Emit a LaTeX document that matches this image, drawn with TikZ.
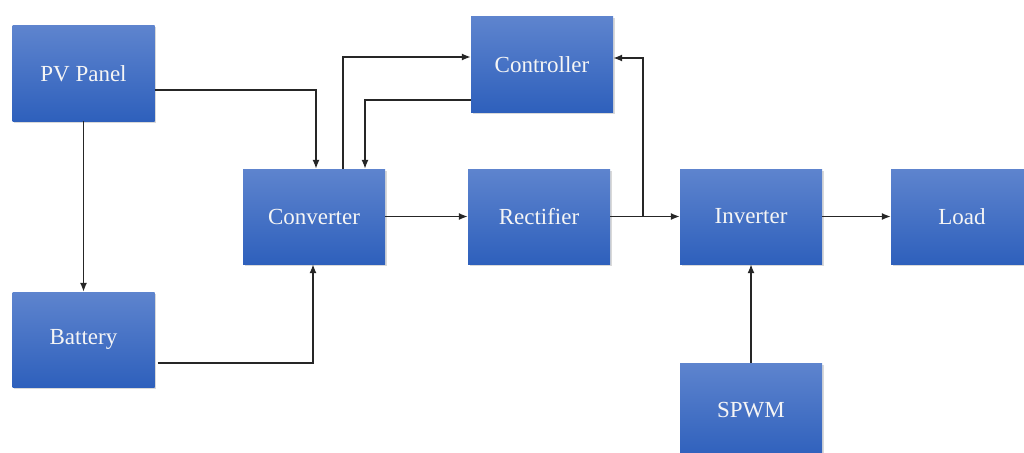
\documentclass[tikz,border=0pt]{standalone}
\usepackage{fontspec}
\setmainfont{Liberation Serif}
\newfontfamily\boxfont{Liberation Serif}
\usetikzlibrary{arrows.meta,shadows}
\definecolor{boxtop}{RGB}{94,132,206}
\definecolor{boxbot}{RGB}{46,96,188}
\begin{document}
\begin{tikzpicture}[x=1pt,y=-1pt,
  blk/.style={rectangle, minimum width=142pt, minimum height=95pt, inner sep=0pt,
    top color=boxtop, bottom color=boxbot, draw=none, text=white!96!black,
    font=\boxfont\fontsize{23}{26}\selectfont,
    drop shadow={opacity=0.3, shadow xshift=1.5pt, shadow yshift=-1.5pt}},
  conn/.style={line width=1.4pt, draw=black!85, -{Latex[length=9pt,width=7pt]}}]
\useasboundingbox (0,0) rectangle (1024,452);
\node[blk] (pv)   at (83.5,73.5)  {PV Panel};
\node[blk] (bat)  at (83.5,339.5) {Battery};
\node[blk] (conv) at (314,216.5)  {Converter};
\node[blk] (ctrl) at (542,64.5)   {Controller};
\node[blk] (rect) at (539,216.5)  {Rectifier};
\node[blk] (inv)  at (751,216.5)  {Inverter};
\node[blk] (load) at (962,216.5)  {Load};
\node[blk] (spwm) at (751,410.5)  {SPWM};
\coordinate (br) at (643,216.5);
\draw[conn] ([yshift=-16.5pt]pv.east) -| ([xshift=2pt]conv.north);
\draw[conn] ([xshift=29pt]conv.north) |- ([yshift=7.5pt]ctrl.west);
\draw[conn] ([yshift=-35.5pt]ctrl.west) -| ([xshift=51pt]conv.north);
\draw[conn] (conv.east) -- (rect.west);
\draw[conn] (rect.east) -- (inv.west);
\draw[conn] (br) |- ([yshift=6.5pt]ctrl.east);
\draw[conn] (inv.east) -- (load.west);
\draw[conn] (spwm.north) -- (inv.south);
\draw[conn] (pv.south) -- (bat.north);
\draw[conn] ([yshift=-23.5pt,xshift=3pt]bat.east) -| ([xshift=-1pt]conv.south);
\end{tikzpicture}
\end{document}
